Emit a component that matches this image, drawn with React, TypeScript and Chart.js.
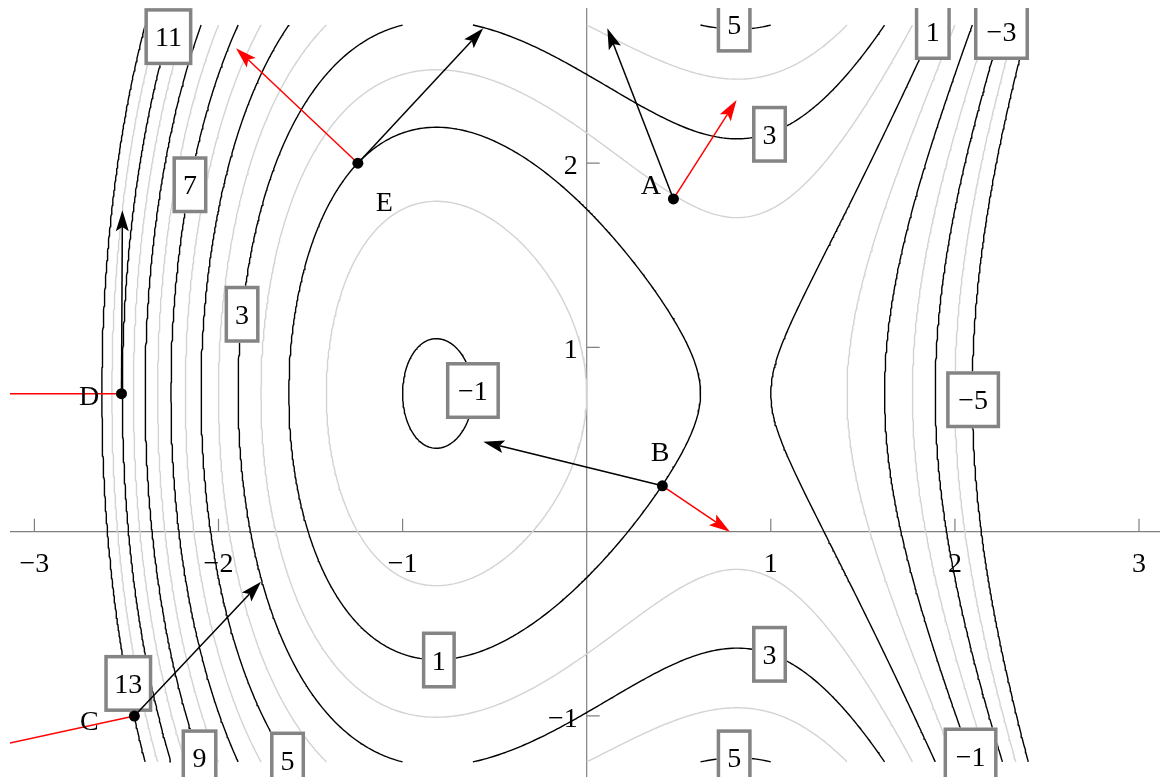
import React, { useEffect, useRef } from 'react';
import { Chart, registerables } from 'chart.js';

Chart.register(...registerables);

// Surface: f(x, y) = c3*x^3 + c1*x + (y - yCentre)^2
const cubicCoef = -1;
const linearCoef = 2;
const yCentre = 0.75;
const domainX = [-3, 3];
const domainY = [-1.25, 2.75];

const blackLevels = [-5, -3, -1, 1, 3, 5, 7, 9, 11, 13];
const grayLevels = [-4, -2, 0, 2, 4, 6, 8, 10, 12];

const xTicks = [-3, -2, -1, 1, 2, 3];
const yTicks = [-1, 1, 2];

const contourLabelText = ['11', '7', '3', '\u22121', '1', '3', '3', '5', '5', '1', '\u22123', '\u22125', '\u22121', '13', '9', '5'];
const contourLabelX = [-2.272, -2.155, -1.872, -0.618, -0.803, 0.993, 0.993, 0.801, 0.801, 1.880, 2.253, 2.099, 2.085, -2.490, -2.103, -1.625];
const contourLabelY = [2.687, 1.883, 1.180, 0.766, -0.697, -0.666, 2.157, 2.755, -1.228, 2.715, 2.715, 0.716, -1.218, -0.824, -1.228, -1.240];
const contourLabelWidth = [48, 35, 35, 54, 34, 35, 35, 35, 35, 36, 55, 54, 54, 48, 36, 35];

const pointNames = ['A', 'B', 'C', 'D', 'E'];
const pointX = [0.471, 0.411, -2.457, -2.527, -1.243];
const pointY = [1.806, 0.249, -1.001, 0.749, 2.0];
const blackTipX = [0.112, -0.562, -1.769, -2.522, -0.562];
const blackTipY = [2.732, 0.488, -0.272, 1.745, 2.732];
const redTipX = [0.814, 0.778, -6.48, -6.82, -1.905];
const redTipY = [2.343, 0.0, -1.876, 0.749, 2.624];
const nameX = [0.348, 0.398, -2.702, -2.703, -1.1];
const nameY = [1.882, 0.434, -1.023, 0.741, 1.791];

const X_MIN = -3.1325;
const X_MAX = 3.114;
const Y_MIN = -1.332;
const Y_MAX = 2.8426;

const FONT = '28px "Liberation Serif", "Times New Roman", serif';

function surface(x: number, y: number) {
  return cubicCoef * x * x * x + linearCoef * x + (y - yCentre) * (y - yCentre);
}

function traceLevel(level: number) {
  const nx = 361;
  const ny = 241;
  const dx = (domainX[1] - domainX[0]) / nx;
  const dy = (domainY[1] - domainY[0]) / ny;
  const gx = (i: number) => domainX[0] + i * dx;
  const gy = (j: number) => domainY[0] + j * dy;
  const vals = new Float64Array((nx + 1) * (ny + 1));
  for (let j = 0; j <= ny; j++) for (let i = 0; i <= nx; i++) vals[j * (nx + 1) + i] = surface(gx(i), gy(j));
  const V = (i: number, j: number) => vals[j * (nx + 1) + i];
  const pts = new Map<string, { x: number; y: number }>();
  const adj = new Map<string, string[]>();
  const addEdge = (key: string, x1: number, y1: number, v1: number, x2: number, y2: number, v2: number) => {
    if (!pts.has(key)) {
      const t = (level - v1) / (v2 - v1);
      pts.set(key, { x: x1 + t * (x2 - x1), y: y1 + t * (y2 - y1) });
    }
  };
  const link = (a: string, b: string) => {
    if (!adj.has(a)) adj.set(a, []);
    if (!adj.has(b)) adj.set(b, []);
    adj.get(a)!.push(b);
    adj.get(b)!.push(a);
  };
  for (let j = 0; j < ny; j++) {
    for (let i = 0; i < nx; i++) {
      const v00 = V(i, j), v10 = V(i + 1, j), v11 = V(i + 1, j + 1), v01 = V(i, j + 1);
      const b = (v00 > level ? 1 : 0) | (v10 > level ? 2 : 0) | (v11 > level ? 4 : 0) | (v01 > level ? 8 : 0);
      if (b === 0 || b === 15) continue;
      const x0 = gx(i), x1 = gx(i + 1), y0 = gy(j), y1 = gy(j + 1);
      const keys = ['h' + i + '_' + j, 'v' + (i + 1) + '_' + j, 'h' + i + '_' + (j + 1), 'v' + i + '_' + j];
      const crossed: number[] = [];
      if ((v00 > level) !== (v10 > level)) { addEdge(keys[0], x0, y0, v00, x1, y0, v10); crossed.push(0); }
      if ((v10 > level) !== (v11 > level)) { addEdge(keys[1], x1, y0, v10, x1, y1, v11); crossed.push(1); }
      if ((v01 > level) !== (v11 > level)) { addEdge(keys[2], x0, y1, v01, x1, y1, v11); crossed.push(2); }
      if ((v00 > level) !== (v01 > level)) { addEdge(keys[3], x0, y0, v00, x0, y1, v01); crossed.push(3); }
      if (crossed.length === 2) {
        link(keys[crossed[0]], keys[crossed[1]]);
      } else if (crossed.length === 4) {
        const centreHigh = (v00 + v10 + v11 + v01) / 4 > level;
        if (b === 5) {
          if (centreHigh) { link(keys[0], keys[1]); link(keys[2], keys[3]); }
          else { link(keys[0], keys[3]); link(keys[1], keys[2]); }
        } else {
          if (centreHigh) { link(keys[0], keys[3]); link(keys[1], keys[2]); }
          else { link(keys[0], keys[1]); link(keys[2], keys[3]); }
        }
      }
    }
  }
  const visited = new Set<string>();
  const paths: { x: number; y: number }[][] = [];
  const walk = (start: string) => {
    const path = [pts.get(start)!];
    visited.add(start);
    let cur = start;
    for (;;) {
      const nb = adj.get(cur)!.find((k) => !visited.has(k));
      if (!nb) {
        if (path.length > 2 && adj.get(cur)!.includes(start)) path.push(pts.get(start)!);
        break;
      }
      visited.add(nb);
      path.push(pts.get(nb)!);
      cur = nb;
    }
    paths.push(path);
  };
  for (const [k, n] of adj) if (n.length === 1 && !visited.has(k)) walk(k);
  for (const k of adj.keys()) if (!visited.has(k)) walk(k);
  const data: any[] = [];
  paths.forEach((p, idx) => {
    if (idx > 0) data.push({ x: null, y: null });
    p.forEach((q) => data.push(q));
  });
  return data;
}

function drawArrow(ctx: CanvasRenderingContext2D, x1: number, y1: number, x2: number, y2: number, color: string) {
  const ang = Math.atan2(y2 - y1, x2 - x1);
  const L = 21;
  const W = 6.5;
  const cos = Math.cos(ang), sin = Math.sin(ang);
  const nx = x2 - cos * L * 0.8, ny = y2 - sin * L * 0.8;
  ctx.strokeStyle = color;
  ctx.fillStyle = color;
  ctx.lineWidth = 1.5;
  ctx.beginPath();
  ctx.moveTo(x1, y1);
  ctx.lineTo(nx, ny);
  ctx.stroke();
  ctx.beginPath();
  ctx.moveTo(x2, y2);
  ctx.lineTo(x2 - cos * L - sin * W, y2 - sin * L + cos * W);
  ctx.lineTo(nx, ny);
  ctx.lineTo(x2 - cos * L + sin * W, y2 - sin * L - cos * W);
  ctx.closePath();
  ctx.fill();
}

const overlayPlugin = {
  id: 'overlay',
  beforeDatasetsDraw(chart: any) {
    const { ctx, chartArea, scales } = chart;
    const xs = scales.x, ys = scales.y;
    const ox = xs.getPixelForValue(0), oy = ys.getPixelForValue(0);
    ctx.save();
    ctx.strokeStyle = '#808080';
    ctx.lineWidth = 1.2;
    ctx.beginPath();
    ctx.moveTo(chartArea.left, oy);
    ctx.lineTo(chartArea.right, oy);
    ctx.moveTo(ox, chartArea.top);
    ctx.lineTo(ox, chartArea.bottom);
    xTicks.forEach((t) => {
      const px = xs.getPixelForValue(t);
      ctx.moveTo(px, oy);
      ctx.lineTo(px, oy - 13);
    });
    yTicks.forEach((t) => {
      const py = ys.getPixelForValue(t);
      ctx.moveTo(ox, py);
      ctx.lineTo(ox + 13, py);
    });
    ctx.stroke();
    ctx.fillStyle = '#000';
    ctx.font = FONT;
    ctx.textAlign = 'center';
    ctx.textBaseline = 'alphabetic';
    xTicks.forEach((t) => {
      const px = xs.getPixelForValue(t);
      ctx.fillText(t < 0 ? '\u2212' + Math.abs(t) : String(t), px, oy + 40);
    });
    ctx.textAlign = 'right';
    yTicks.forEach((t) => {
      const py = ys.getPixelForValue(t);
      ctx.fillText(t < 0 ? '\u2212' + Math.abs(t) : String(t), ox - 9, py + 11);
    });
    ctx.restore();
  },
  afterDatasetsDraw(chart: any) {
    const { ctx, chartArea, scales } = chart;
    const xs = scales.x, ys = scales.y;
    ctx.save();
    ctx.beginPath();
    ctx.rect(chartArea.left, chartArea.top, chartArea.right - chartArea.left, chartArea.bottom - chartArea.top);
    ctx.clip();
    ctx.font = FONT;
    contourLabelText.forEach((txt, i) => {
      const cx = xs.getPixelForValue(contourLabelX[i]);
      const cy = ys.getPixelForValue(contourLabelY[i]);
      const w = contourLabelWidth[i];
      const h = 57;
      const lw = 3.5;
      ctx.fillStyle = '#fff';
      ctx.fillRect(cx - w / 2, cy - h / 2, w, h);
      ctx.strokeStyle = '#848484';
      ctx.lineWidth = lw;
      ctx.strokeRect(cx - w / 2 + lw / 2, cy - h / 2 + lw / 2, w - lw, h - lw);
      ctx.fillStyle = '#000';
      ctx.textAlign = 'center';
      ctx.textBaseline = 'alphabetic';
      ctx.fillText(txt, cx, cy + 9.5);
    });
    pointNames.forEach((_, i) => {
      const px = xs.getPixelForValue(pointX[i]), py = ys.getPixelForValue(pointY[i]);
      drawArrow(ctx, px, py, xs.getPixelForValue(redTipX[i]), ys.getPixelForValue(redTipY[i]), '#ff0000');
      drawArrow(ctx, px, py, xs.getPixelForValue(blackTipX[i]), ys.getPixelForValue(blackTipY[i]), '#000000');
    });
    pointNames.forEach((_, i) => {
      const px = xs.getPixelForValue(pointX[i]), py = ys.getPixelForValue(pointY[i]);
      ctx.fillStyle = '#000';
      ctx.beginPath();
      ctx.arc(px, py, 5.5, 0, Math.PI * 2);
      ctx.fill();
    });
    ctx.fillStyle = '#000';
    ctx.textAlign = 'center';
    ctx.textBaseline = 'alphabetic';
    pointNames.forEach((n, i) => {
      ctx.fillText(n, xs.getPixelForValue(nameX[i]), ys.getPixelForValue(nameY[i]) + 9.5);
    });
    ctx.restore();
  },
};

export default function App() {
  const ref = useRef<HTMLCanvasElement | null>(null);
  useEffect(() => {
    document.body.style.margin = '0';
    document.body.style.overflow = 'hidden';
    if (!ref.current) return;
    const datasets: any[] = [];
    grayLevels.forEach((lv) => {
      datasets.push({
        label: 'level ' + lv,
        data: traceLevel(lv),
        showLine: true,
        borderColor: '#d3d3d3',
        borderWidth: 1.4,
        pointRadius: 0,
        pointHoverRadius: 0,
        tension: 0,
        spanGaps: false,
        borderJoinStyle: 'round',
      });
    });
    blackLevels.forEach((lv) => {
      datasets.push({
        label: 'level ' + lv,
        data: traceLevel(lv),
        showLine: true,
        borderColor: '#000000',
        borderWidth: 1.4,
        pointRadius: 0,
        pointHoverRadius: 0,
        tension: 0,
        spanGaps: false,
        borderJoinStyle: 'round',
      });
    });
    const chart = new Chart(ref.current, {
      type: 'scatter',
      data: { datasets },
      options: {
        animation: false,
        responsive: false,
        devicePixelRatio: 1,
        events: [],
        layout: { padding: { left: 10, right: 1, top: 8, bottom: 0 } },
        plugins: { legend: { display: false }, tooltip: { enabled: false } },
        scales: {
          x: { type: 'linear', min: X_MIN, max: X_MAX, display: false },
          y: { type: 'linear', min: Y_MIN, max: Y_MAX, display: false },
        },
      },
      plugins: [overlayPlugin],
    } as any);
    let alive = true;
    if ((document as any).fonts && (document as any).fonts.load) {
      (document as any).fonts.load(FONT).then(() => {
        if (alive) chart.draw();
      }).catch(() => {});
    }
    return () => {
      alive = false;
      chart.destroy();
    };
  }, []);
  return <canvas ref={ref} width={1161} height={777} style={{ display: 'block' }} />;
}
